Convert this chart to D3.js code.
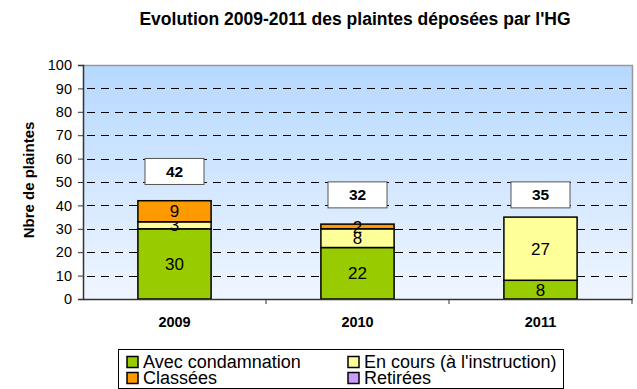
<!DOCTYPE html>
<html>
<head>
<meta charset="utf-8">
<script src="https://cdn.jsdelivr.net/npm/d3@7"></script>
<style>
  html, body { margin: 0; padding: 0; background: #fff; }
  svg { display: block; font-family: "Liberation Sans", Arial, sans-serif; }
</style>
</head>
<body>
<svg id="chart" width="637" height="389"></svg>
<script>
// Complaints filed per year, split by outcome
const years = ["2009", "2010", "2011"];
const seriesNames = ["Avec condamnation", "En cours (à l'instruction)", "Classées", "Retirées"];
const avecCondamnation = [30, 22, 8];
const enCours = [3, 8, 27];
const classees = [9, 2, 0];
const retirees = [0, 0, 0];
const yTicks = [0, 10, 20, 30, 40, 50, 60, 70, 80, 90, 100];

const colors = ["#99CC00", "#FFFF99", "#FF9900", "#CC99FF"];
const values = [avecCondamnation, enCours, classees, retirees];
const FONT = "Liberation Sans, Arial, sans-serif";

const rows = years.map((y, i) => {
  const r = { year: y };
  seriesNames.forEach((s, k) => { r[s] = values[k][i]; });
  r.total = values.reduce((a, v) => a + v[i], 0);
  return r;
});

const svg = d3.select("#chart");
const plot = { left: 83, right: 632, top: 65, bottom: 299 };

const x = d3.scaleBand().domain(years).range([plot.left, plot.right]).paddingInner(0).paddingOuter(0);
const y = d3.scaleLinear().domain([0, 100]).range([plot.bottom, plot.top]);

// background gradient
const defs = svg.append("defs");
const grad = defs.append("linearGradient").attr("id", "bg").attr("x1", 0).attr("y1", 0).attr("x2", 0).attr("y2", 1);
grad.append("stop").attr("offset", "0%").attr("stop-color", "#b6d8ff");
grad.append("stop").attr("offset", "100%").attr("stop-color", "#f0f6ff");

svg.append("rect")
  .attr("x", plot.left).attr("y", plot.top)
  .attr("width", plot.right - plot.left).attr("height", plot.bottom - plot.top)
  .attr("fill", "url(#bg)");

// plot frame (top and right)
svg.append("path")
  .attr("d", `M${plot.left},${plot.top + 0.5}H${plot.right + 0.5}V${plot.bottom}`)
  .attr("fill", "none").attr("stroke", "#999").attr("stroke-width", 1.5);

// dashed gridlines
svg.append("g").selectAll("line")
  .data(yTicks.filter(t => t > 0 && t < 100))
  .join("line")
  .attr("x1", plot.left).attr("x2", plot.right)
  .attr("y1", d => Math.round(y(d)) + 0.5).attr("y2", d => Math.round(y(d)) + 0.5)
  .attr("stroke", "#000").attr("stroke-width", 1)
  .attr("stroke-dasharray", "8,6")
  .attr("stroke-dashoffset", -4);

// stacked bars
const stack = d3.stack().keys(seriesNames)(rows);
const barW = x.bandwidth() * 0.4;
const layers = svg.append("g").selectAll("g")
  .data(stack).join("g")
  .attr("fill", (d, i) => colors[i]);

layers.selectAll("rect")
  .data(d => d.filter(s => s[1] - s[0] > 0))
  .join("rect")
  .attr("x", d => x(d.data.year) + (x.bandwidth() - barW) / 2)
  .attr("width", barW)
  .attr("y", d => y(d[1]))
  .attr("height", d => y(d[0]) - y(d[1]))
  .attr("stroke", "#000").attr("stroke-width", 1.5);

// segment value labels
layers.selectAll("text")
  .data(d => d.filter(s => s[1] - s[0] > 0))
  .join("text")
  .attr("x", d => x(d.data.year) + x.bandwidth() / 2)
  .attr("y", d => (y(d[0]) + y(d[1])) / 2)
  .attr("dy", "0.36em")
  .attr("text-anchor", "middle")
  .attr("fill", "#000")
  .attr("font-size", 17)
  .text(d => d[1] - d[0]);

// total boxes, sitting one gridline band above each bar
const boxW = 59, boxH = 26;
const totals = svg.append("g").selectAll("g").data(rows).join("g")
  .attr("transform", d => {
    const level = Math.ceil((d.total + 10) / 10) * 10 - 5.5;
    return `translate(${x(d.year) + x.bandwidth() / 2},${y(level)})`;
  });
totals.append("rect")
  .attr("x", -boxW / 2).attr("y", -boxH / 2)
  .attr("width", boxW).attr("height", boxH)
  .attr("fill", "#fff").attr("stroke", "#555").attr("stroke-width", 1);
totals.append("text")
  .attr("text-anchor", "middle").attr("dy", "0.36em")
  .attr("font-size", 15.5).attr("font-weight", "bold")
  .text(d => d.total);

// y axis
const yAxis = svg.append("g")
  .attr("transform", `translate(${plot.left},0)`)
  .call(d3.axisLeft(y).tickValues(yTicks).tickSize(5).tickPadding(6));
yAxis.selectAll("text").attr("font-size", 14.5).attr("fill", "#000").attr("font-family", FONT);
yAxis.select(".domain").attr("stroke", "#333").attr("stroke-width", 1.5);
yAxis.selectAll(".tick line").attr("stroke", "#333");

// x axis
const xAxis = svg.append("g")
  .attr("transform", `translate(0,${plot.bottom})`)
  .call(d3.axisBottom(x).tickSize(0).tickPadding(18));
xAxis.select(".domain").attr("stroke", "#333").attr("stroke-width", 1.5);
xAxis.selectAll("text").attr("font-size", 14.5).attr("font-weight", "bold").attr("fill", "#000")
  .attr("font-family", FONT);
// category separators
xAxis.append("g").selectAll("line")
  .data(years.slice(1).concat(["end"]))
  .join("line")
  .attr("x1", (d, i) => i < years.length - 1 ? x(d) : plot.right)
  .attr("x2", (d, i) => i < years.length - 1 ? x(d) : plot.right)
  .attr("y1", 0).attr("y2", 5)
  .attr("stroke", "#333");

// y axis title
svg.append("text")
  .attr("transform", `translate(34,180) rotate(-90)`)
  .attr("text-anchor", "middle")
  .attr("font-size", 15).attr("font-weight", "bold")
  .text("Nbre de plaintes");

// chart title
svg.append("text")
  .attr("x", 355).attr("y", 25)
  .attr("text-anchor", "middle")
  .attr("font-size", 17.5).attr("font-weight", "bold")
  .text("Evolution 2009-2011 des plaintes déposées par l'HG");

// legend
const legend = svg.append("g").attr("transform", "translate(118,349)");
legend.append("rect")
  .attr("x", 0.5).attr("y", 0.5).attr("width", 445).attr("height", 39)
  .attr("fill", "#fff").attr("stroke", "#000").attr("stroke-width", 1);
const legendOrder = [0, 1, 2, 3];
const items = legend.selectAll("g.item").data(legendOrder).join("g")
  .attr("class", "item")
  .attr("transform", (k, i) => `translate(${i % 2 === 0 ? 9 : 230},${i < 2 ? 13 : 29})`);
items.append("rect")
  .attr("x", 0).attr("y", -5.5).attr("width", 11).attr("height", 11)
  .attr("fill", k => colors[k]).attr("stroke", "#000").attr("stroke-width", 1.5);
items.append("text")
  .attr("x", 16).attr("dy", "0.36em")
  .attr("font-size", 18)
  .text(k => seriesNames[k]);
</script>
</body>
</html>
